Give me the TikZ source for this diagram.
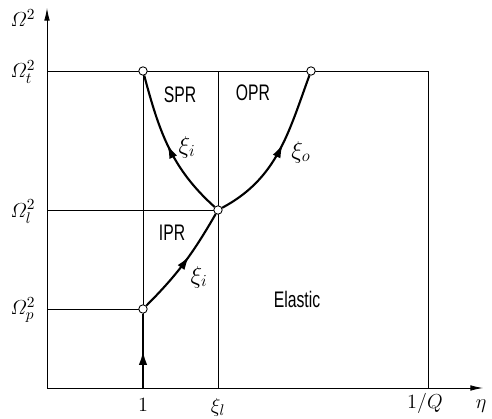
\documentclass[tikz,border=0pt]{standalone}
\usepackage{fontspec}
\usepackage{amsmath}
\usetikzlibrary{arrows.meta,decorations.markings}
\newfontfamily\regionfont[FakeStretch=0.7]{Liberation Sans}

\tikzset{
  thinline/.style={line width=0.6pt},
  branch/.style={line width=1.5pt, postaction={decorate},
    decoration={markings, mark=at position #1 with {\arrow{Latex[length=10pt,width=6pt]}}}},
  junction/.style={circle, draw, line width=0.6pt, fill=white, inner sep=0pt, minimum size=6pt},
  region/.style={font=\regionfont\fontsize{16}{19}\selectfont},
  axislabel/.style={font=\fontsize{15}{18}\selectfont},
  branchlabel/.style={font=\LARGE},
}

\begin{document}
\begin{tikzpicture}
    \useasboundingbox (-1.175,-0.75) rectangle (11.125,9.7);

    % -----------------------------------------------------
    % 1) Axes: eta to the right, Omega^2 upwards
    % -----------------------------------------------------
    \coordinate (O) at (0,0);
    \coordinate (Xend) at (10.9,0);
    \coordinate (Yend) at (0,9.5);
    \draw[thinline, -{Latex[length=9pt,width=4pt]}] (O) -- (Xend);
    \draw[thinline, -{Latex[length=9pt,width=4pt]}] (O) -- (Yend);

    % -----------------------------------------------------
    % 2) Grid lines at 1, xi_l, 1/Q and Omega_t, Omega_l, Omega_p
    % -----------------------------------------------------
    \coordinate (Tl)  at (0,7.925);
    \coordinate (Tr)  at (9.525,7.925);
    \coordinate (Q)   at (9.525,0);
    \coordinate (A1)  at (2.4,0);
    \coordinate (Al)  at (4.275,0);
    \coordinate (At1) at (2.4,7.925);
    \coordinate (Atl) at (4.275,7.925);
    \coordinate (Ll)  at (0,4.45);
    \coordinate (Pl)  at (0,1.975);
    \draw[thinline] (Tl) -- (Tr) -- (Q);
    \draw[thinline] (A1) -- (At1);
    \draw[thinline] (Al) -- (Atl);
    \draw[thinline] (Ll) -- (Al |- Ll);
    \draw[thinline] (Pl) -- (A1 |- Pl);

    % -----------------------------------------------------
    % 3) Junction points (open circles)
    % -----------------------------------------------------
    \node[junction] (p) at (2.4,1.975) {};
    \node[junction] (l) at (4.275,4.45) {};
    \node[junction] (s) at (2.4,7.925) {};
    \node[junction] (o) at (6.6,7.925) {};

    % -----------------------------------------------------
    % 4) Branches with arrows
    % -----------------------------------------------------
    \draw[branch=0.5] (A1) -- (p);
    \draw[branch=0.57] (p) to[out=45,in=240] (l);
    \draw[branch=0.52] (l) to[out=138,in=-75] (s);
    \draw[branch=0.55] (l) to[out=28,in=250] (o);

    % -----------------------------------------------------
    % 5) Region names and branch labels
    % -----------------------------------------------------
    \node[region] (spr) at (3.325,7.325) {SPR};
    \node[region] (opr) at (5.15,7.375) {OPR};
    \node[region] (ipr) at (3.125,3.875) {IPR};
    \node[region] (elastic) at (6.25,2.225) {Elastic};
    \node[branchlabel] (xilow) at (3.8,2.775) {$\xi_i$};
    \node[branchlabel] (xiup) at (3.5,6.025) {$\xi_i$};
    \node[branchlabel] (xio) at (6.35,5.9) {$\xi_o$};

    % -----------------------------------------------------
    % 6) Axis labels
    % -----------------------------------------------------
    \node[axislabel] (om)  at (-0.6,9.25) {$\varOmega^2$};
    \node[axislabel] (omt) at (-0.6,7.9) {$\varOmega_t^2$};
    \node[axislabel] (oml) at (-0.6,4.4) {$\varOmega_l^2$};
    \node[axislabel] (omp) at (-0.6,1.95) {$\varOmega_p^2$};
    \node[axislabel] (one)  at (2.4,-0.425) {$1$};
    \node[axislabel] (xil)  at (4.275,-0.475) {$\xi_l$};
    \node[axislabel] (invq) at (9.45,-0.375) {$1/Q$};
    \node[axislabel] (eta)  at (10.85,-0.45) {$\eta$};
\end{tikzpicture}
\end{document}
